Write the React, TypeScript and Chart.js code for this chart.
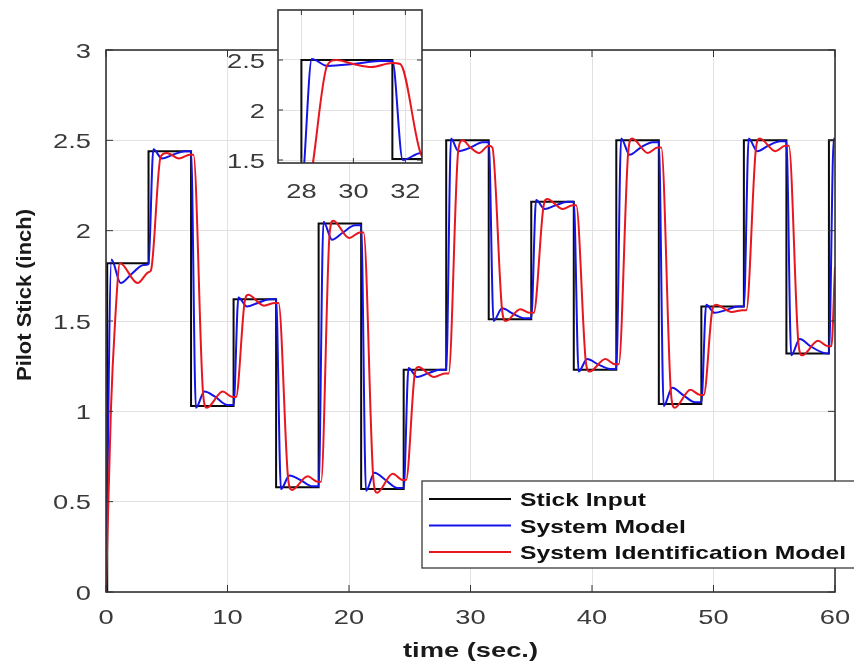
import React, { useEffect, useRef } from 'react';
import { Chart, registerables } from 'chart.js';
Chart.register(...registerables);

// ---- data ----
const stickTimes = [0, 0.1, 3.5, 7.0, 10.5, 14.0, 17.5, 21.0, 24.5, 28.0, 31.5, 35.0, 38.5, 42.0, 45.5, 49.0, 52.5, 56.0, 59.5, 60];
const stickLevels = [0, 1.82, 2.44, 1.03, 1.62, 0.58, 2.04, 0.57, 1.23, 2.5, 1.51, 2.16, 1.23, 2.5, 1.04, 1.58, 2.5, 1.32, 2.5, 2.5];

const modelTimes = [0, 0.45, 1.2, 2.1, 3.1, 3.5, 3.9, 4.6, 5.5, 6.5, 7.0, 7.4, 8.1, 9.0, 10.0, 10.5, 10.9, 11.6, 12.5, 13.5, 14.0, 14.4, 15.1, 16.0, 17.0, 17.5, 17.9, 18.6, 19.5, 20.5, 21.0, 21.4, 22.1, 23.0, 24.0, 24.5, 24.9, 25.6, 26.5, 27.5, 28.0, 28.4, 29.0, 30.0, 31.0, 31.5, 31.9, 32.6, 33.5, 34.5, 35.0, 35.4, 36.1, 37.0, 38.0, 38.5, 38.9, 39.6, 40.5, 41.5, 42.0, 42.4, 43.1, 44.0, 45.0, 45.5, 45.9, 46.6, 47.5, 48.5, 49.0, 49.4, 50.1, 51.0, 52.0, 52.5, 52.9, 53.6, 54.5, 55.5, 56.0, 56.4, 57.1, 58.0, 59.0, 59.5, 59.9, 60];
const modelValues = [0, 1.84, 1.71, 1.76, 1.81, 1.815, 2.45, 2.4, 2.42, 2.44, 2.44, 1.02, 1.11, 1.08, 1.035, 1.035, 1.63, 1.58, 1.6, 1.62, 1.62, 0.57, 0.645, 0.62, 0.585, 0.585, 2.05, 1.95, 1.99, 2.03, 2.03, 0.56, 0.66, 0.62, 0.575, 0.575, 1.24, 1.19, 1.21, 1.23, 1.23, 2.51, 2.44, 2.46, 2.49, 2.49, 1.5, 1.57, 1.54, 1.515, 1.515, 2.17, 2.12, 2.14, 2.16, 2.16, 1.22, 1.29, 1.26, 1.235, 1.235, 2.51, 2.42, 2.46, 2.49, 2.49, 1.03, 1.13, 1.09, 1.05, 1.05, 1.59, 1.545, 1.56, 1.58, 1.58, 2.51, 2.44, 2.47, 2.495, 2.495, 1.31, 1.4, 1.36, 1.325, 1.32, 2.51, 2.5];

const identTimes = [0, 0.4, 0.75, 1.15, 2.6, 3.5, 3.7, 4.5, 5.0, 6.0, 6.9, 7.2, 8.0, 8.3, 9.6, 10.4, 10.7, 11.4, 11.7, 13.0, 13.9, 14.2, 15.0, 15.3, 16.6, 17.4, 17.7, 18.4, 18.7, 20.0, 20.9, 21.2, 22.0, 22.3, 23.6, 24.4, 24.7, 25.4, 25.7, 27.0, 27.9, 28.2, 29.0, 29.35, 30.0, 30.7, 31.5, 31.8, 32.6, 32.9, 34.1, 34.9, 35.2, 36.0, 36.3, 37.6, 38.4, 38.7, 39.5, 39.8, 41.1, 41.9, 42.2, 43.0, 43.3, 44.6, 45.4, 45.7, 46.5, 46.8, 48.1, 48.9, 49.2, 49.9, 50.2, 51.5, 52.4, 52.7, 53.5, 53.8, 55.1, 55.9, 56.2, 57.0, 57.3, 58.6, 59.4, 59.7, 60];
const identValues = [0, 1.0, 1.5, 1.82, 1.71, 1.77, 1.78, 2.41, 2.43, 2.4, 2.42, 2.42, 1.09, 1.02, 1.11, 1.08, 1.08, 1.6, 1.645, 1.585, 1.6, 1.6, 0.62, 0.565, 0.64, 0.61, 0.61, 1.98, 2.055, 1.96, 1.99, 1.99, 0.63, 0.55, 0.655, 0.62, 0.62, 1.2, 1.245, 1.19, 1.21, 1.21, 2.45, 2.5, 2.46, 2.43, 2.47, 2.46, 1.56, 1.5, 1.565, 1.545, 1.545, 2.13, 2.175, 2.12, 2.14, 2.14, 1.27, 1.22, 1.29, 1.26, 1.26, 2.45, 2.51, 2.43, 2.46, 2.46, 1.1, 1.02, 1.12, 1.09, 1.09, 1.56, 1.59, 1.55, 1.56, 1.56, 2.46, 2.51, 2.44, 2.47, 2.47, 1.37, 1.31, 1.39, 1.36, 1.36, 1.8];

const xTicksMain = [0, 10, 20, 30, 40, 50, 60];
const yTicksMain = [0, 0.5, 1, 1.5, 2, 2.5, 3];
const xTicksInset = [28, 30, 32];
const yTicksInset = [1.5, 2, 2.5];
const seriesLabels = ['Stick Input', 'System Model', 'System Identification Model'];
const seriesColors = ['#0a0a0a', '#1414e6', '#e8161e'];
const xTitle = 'time (sec.)';
const yTitle = 'Pilot Stick (inch)';

const FONT = '"Liberation Sans", Arial, sans-serif';
const TICK_FONT = '21px ' + FONT;

function drawText(ctx: CanvasRenderingContext2D, text: string, x: number, y: number, font: string, color: string, align: CanvasTextAlign, sx: number) {
  ctx.save();
  ctx.translate(x, y);
  ctx.scale(sx, 1);
  ctx.font = font;
  ctx.fillStyle = color;
  ctx.textAlign = align;
  ctx.textBaseline = 'alphabetic';
  ctx.fillText(text, 0, 0);
  ctx.restore();
}

function line(ctx: CanvasRenderingContext2D, x1: number, y1: number, x2: number, y2: number) {
  ctx.beginPath();
  ctx.moveTo(x1, y1);
  ctx.lineTo(x2, y2);
  ctx.stroke();
}

function makeDatasets(clip: any) {
  return [
    {
      label: seriesLabels[0],
      data: stickTimes.map((t, i) => ({ x: t, y: stickLevels[i] })),
      borderColor: seriesColors[0],
      borderWidth: 2,
      pointRadius: 0,
      stepped: 'before' as const,
      fill: false,
      order: 3,
      clip,
    },
    {
      label: seriesLabels[1],
      data: modelTimes.map((t, i) => ({ x: t, y: modelValues[i] })),
      borderColor: seriesColors[1],
      borderWidth: 2,
      pointRadius: 0,
      cubicInterpolationMode: 'monotone' as const,
      fill: false,
      order: 2,
      clip,
    },
    {
      label: seriesLabels[2],
      data: identTimes.map((t, i) => ({ x: t, y: identValues[i] })),
      borderColor: seriesColors[2],
      borderWidth: 2,
      pointRadius: 0,
      cubicInterpolationMode: 'monotone' as const,
      fill: false,
      order: 1,
      clip,
    },
  ];
}

function scaleOpts(min: number, max: number, ticks: number[], isX: boolean) {
  return {
    type: 'linear' as const,
    min,
    max,
    afterBuildTicks: (s: any) => {
      s.ticks = ticks.map((v) => ({ value: v }));
    },
    afterFit: (s: any) => {
      if (isX) s.height = 10;
      else s.width = 10;
    },
    ticks: { display: false },
    grid: { color: '#e2e2e2', lineWidth: 1, drawTicks: false },
    border: { display: false },
  };
}

const mainDecor = {
  id: 'mainDecor',
  afterDraw(chart: any) {
    const { ctx, chartArea: a, scales } = chart;
    const xs = scales.x;
    const ys = scales.y;
    ctx.save();
    ctx.strokeStyle = '#333333';
    ctx.lineWidth = 1;
    xTicksMain.forEach((v) => {
      const px = xs.getPixelForValue(v);
      line(ctx, px, a.bottom, px, a.bottom - 7);
      line(ctx, px, a.top, px, a.top + 7);
    });
    yTicksMain.forEach((v) => {
      const py = ys.getPixelForValue(v);
      line(ctx, a.left, py, a.left + 7, py);
      line(ctx, a.right, py, a.right - 7, py);
    });
    ctx.lineWidth = 1.6;
    ctx.strokeStyle = '#333333';
    ctx.strokeRect(a.left, a.top, a.right - a.left, a.bottom - a.top);

    // tick labels
    xTicksMain.forEach((v) => {
      drawText(ctx, String(v), xs.getPixelForValue(v), a.bottom + 32, TICK_FONT, '#3a3a3a', 'center', 1.3);
    });
    yTicksMain.forEach((v) => {
      drawText(ctx, String(v), a.left - 15, ys.getPixelForValue(v) + 7.5, TICK_FONT, '#3a3a3a', 'right', 1.3);
    });

    // axis titles
    ctx.font = 'bold 21px ' + FONT;
    const wx = ctx.measureText(xTitle).width;
    drawText(ctx, xTitle, (a.left + a.right) / 2, 657, 'bold 21px ' + FONT, '#1a1a1a', 'center', 135 / wx);

    ctx.save();
    ctx.font = 'bold 20px ' + FONT;
    const wy = ctx.measureText(yTitle).width;
    ctx.translate(31, 295);
    ctx.rotate(-Math.PI / 2);
    ctx.scale(172 / wy, 1);
    ctx.fillStyle = '#1a1a1a';
    ctx.textAlign = 'center';
    ctx.textBaseline = 'alphabetic';
    ctx.fillText(yTitle, 0, 0);
    ctx.restore();

    // legend
    const lx = 422, ly = 481, lh = 87;
    ctx.fillStyle = '#ffffff';
    ctx.fillRect(lx, ly, 460, lh);
    ctx.strokeStyle = '#3a3a3a';
    ctx.lineWidth = 1.3;
    ctx.strokeRect(lx, ly, 460, lh);
    const legFont = 'bold 19px ' + FONT;
    ctx.font = legFont;
    const wl = ctx.measureText(seriesLabels[2]).width;
    const sx = 326 / wl;
    const rows = [499, 525.5, 552];
    seriesLabels.forEach((lab, i) => {
      ctx.strokeStyle = seriesColors[i];
      ctx.lineWidth = 2;
      line(ctx, 429, rows[i], 511, rows[i]);
      drawText(ctx, lab, 520, rows[i] + 7, legFont, '#111111', 'left', sx);
    });
    ctx.restore();
  },
};

const insetDecor = {
  id: 'insetDecor',
  beforeDraw(chart: any) {
    const { ctx, chartArea: a } = chart;
    ctx.save();
    ctx.fillStyle = '#ffffff';
    ctx.fillRect(a.left, a.top, a.right - a.left, a.bottom - a.top);
    ctx.restore();
  },
  afterDraw(chart: any) {
    const { ctx, chartArea: a, scales } = chart;
    const xs = scales.x;
    const ys = scales.y;
    ctx.save();
    ctx.strokeStyle = '#333333';
    ctx.lineWidth = 1;
    xTicksInset.forEach((v) => {
      const px = xs.getPixelForValue(v);
      line(ctx, px, a.bottom, px, a.bottom - 5);
      line(ctx, px, a.top, px, a.top + 5);
    });
    yTicksInset.forEach((v) => {
      const py = ys.getPixelForValue(v);
      line(ctx, a.left, py, a.left + 5, py);
      line(ctx, a.right, py, a.right - 5, py);
    });
    ctx.lineWidth = 1.6;
    ctx.strokeRect(a.left, a.top, a.right - a.left, a.bottom - a.top);
    xTicksInset.forEach((v) => {
      drawText(ctx, String(v), xs.getPixelForValue(v), 198, TICK_FONT, '#3a3a3a', 'center', 1.3);
    });
    yTicksInset.forEach((v) => {
      drawText(ctx, String(v), a.left - 13, ys.getPixelForValue(v) + 7.5, TICK_FONT, '#3a3a3a', 'right', 1.3);
    });
    ctx.restore();
  },
};

export default function App() {
  const mainRef = useRef<HTMLCanvasElement>(null);
  const insetRef = useRef<HTMLCanvasElement>(null);

  useEffect(() => {
    const common = {
      animation: false as const,
      responsive: false,
      maintainAspectRatio: false,
      devicePixelRatio: 1,
      events: [] as any[],
      plugins: { legend: { display: false }, tooltip: { enabled: false } },
    };
    const main = new Chart(mainRef.current!, {
      type: 'line',
      data: { datasets: makeDatasets(undefined) as any },
      options: {
        ...common,
        layout: { padding: { left: 96, top: 50, right: 19, bottom: 60 }, autoPadding: false },
        scales: {
          x: scaleOpts(0, 60, xTicksMain, true),
          y: scaleOpts(0, 3, yTicksMain, false),
        },
      } as any,
      plugins: [mainDecor],
    });
    const inset = new Chart(insetRef.current!, {
      type: 'line',
      data: { datasets: makeDatasets(0) as any },
      options: {
        ...common,
        layout: { padding: { left: 268, top: 10, right: 432, bottom: 489 }, autoPadding: false },
        scales: {
          x: scaleOpts(27.1, 32.64, xTicksInset, true),
          y: scaleOpts(1.47, 3.0, yTicksInset, false),
        },
      } as any,
      plugins: [insetDecor],
    });
    return () => {
      main.destroy();
      inset.destroy();
    };
  }, []);

  return (
    <div style={{ position: 'fixed', left: 0, top: 0, width: 854, height: 662, background: '#ffffff' }}>
      <canvas ref={mainRef} width={854} height={662} style={{ position: 'absolute', left: 0, top: 0 }} />
      <canvas ref={insetRef} width={854} height={662} style={{ position: 'absolute', left: 0, top: 0 }} />
    </div>
  );
}
